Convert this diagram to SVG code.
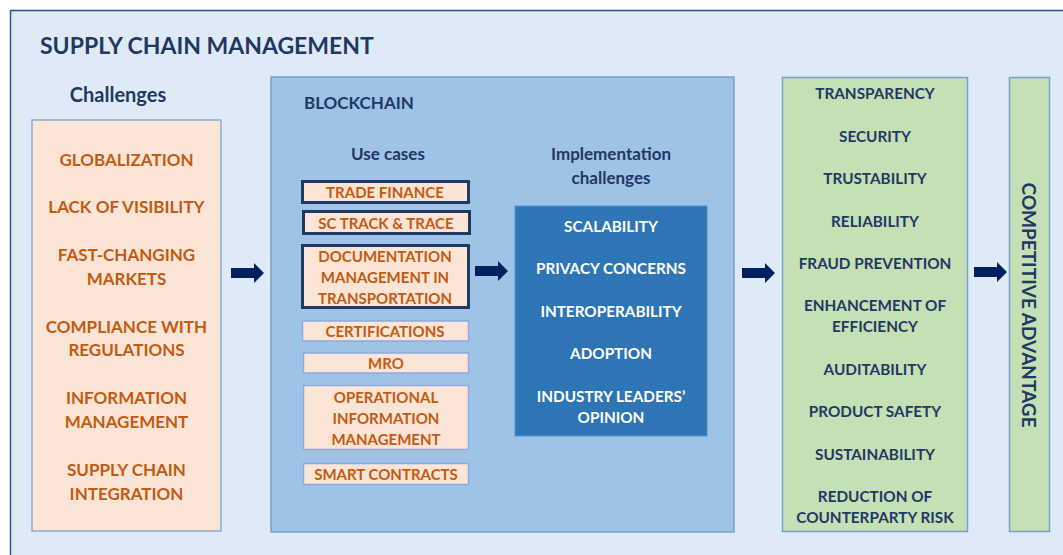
<svg xmlns="http://www.w3.org/2000/svg" width="1063" height="555" viewBox="0 0 1063 555">
<defs>
<style>
text{font-family:Lato,"Open Sans","Liberation Sans",sans-serif;font-weight:700;text-anchor:middle}
.dk{fill:#1F3864}
.or{fill:#C55A11}
.wh{fill:#FFFFFF}
.ch{font-size:17px}
.uc{font-size:15px}
.im{font-size:15.3px}
.gr{font-size:15.3px}
.thick{fill:#FBE5D6;stroke:#1F3864;stroke-width:3}
.thin{fill:#FBE5D6;stroke:#8FAADC;stroke-width:1.5}
.arr{fill:#002060}
</style>
<path id="arrow" d="M0,-5 L23,-5 L23,-10 L33,0 L23,10 L23,5 L0,5 Z"/>
</defs>
<rect x="0" y="0" width="1063" height="555" fill="#FFFFFF"/>
<rect id="frame" x="10.5" y="10.5" width="1070" height="560" fill="#DEEBF7" stroke="#2F4F8F" stroke-width="1.5"/>
<text class="dk" x="40" y="54" style="font-size:23px;text-anchor:start">SUPPLY CHAIN MANAGEMENT</text>

<g id="challenges">
<text class="dk" x="118" y="102" style="font-size:20px">Challenges</text>
<rect x="32" y="120" width="189" height="411" fill="#FBE5D6" stroke="#8FAADC" stroke-width="1.5"/>
<text class="or ch" x="126.5" y="166">GLOBALIZATION</text>
<text class="or ch" x="126.5" y="213">LACK OF VISIBILITY</text>
<text class="or ch" x="126.5" y="261">FAST-CHANGING</text>
<text class="or ch" x="126.5" y="285">MARKETS</text>
<text class="or ch" x="126.5" y="333">COMPLIANCE WITH</text>
<text class="or ch" x="126.5" y="356">REGULATIONS</text>
<text class="or ch" x="126.5" y="404">INFORMATION</text>
<text class="or ch" x="126.5" y="428">MANAGEMENT</text>
<text class="or ch" x="126.5" y="476">SUPPLY CHAIN</text>
<text class="or ch" x="126.5" y="500">INTEGRATION</text>
</g>

<g id="blockchain">
<rect x="271" y="77" width="463" height="455" fill="#9DC3E6" stroke="#7A9FCC" stroke-width="1.5"/>
<text class="dk" x="304" y="109" style="font-size:17px;text-anchor:start">BLOCKCHAIN</text>
<text class="dk" x="388" y="160" style="font-size:17px">Use cases</text>
<text class="dk" x="611" y="160" style="font-size:17px">Implementation</text>
<text class="dk" x="611" y="184" style="font-size:17px">challenges</text>
</g>

<g id="uc-trade"><rect class="thick" x="302.5" y="181.5" width="166" height="21"/><text class="or uc" x="385" y="198">TRADE FINANCE</text></g>
<g id="uc-track"><rect class="thick" x="303.5" y="211.5" width="166" height="22"/><text class="or uc" x="386" y="229">SC TRACK &amp; TRACE</text></g>
<g id="uc-doc"><rect class="thick" x="302.5" y="245.5" width="166" height="62"/>
<text class="or uc" x="385" y="262">DOCUMENTATION</text><text class="or uc" x="385" y="283">MANAGEMENT IN</text><text class="or uc" x="385" y="304">TRANSPORTATION</text></g>
<g id="uc-cert"><rect class="thin" x="302.5" y="321" width="166" height="20"/><text class="or uc" x="385" y="337">CERTIFICATIONS</text></g>
<g id="uc-mro"><rect class="thin" x="303.5" y="353" width="165" height="20"/><text class="or uc" x="386" y="369">MRO</text></g>
<g id="uc-ops"><rect class="thin" x="303.5" y="385.5" width="165" height="64"/>
<text class="or uc" x="386" y="403">OPERATIONAL</text><text class="or uc" x="386" y="424">INFORMATION</text><text class="or uc" x="386" y="445">MANAGEMENT</text></g>
<g id="uc-smart"><rect class="thin" x="303.5" y="463.5" width="165" height="21"/><text class="or uc" x="386" y="480">SMART CONTRACTS</text></g>

<g id="implementation">
<rect x="515" y="206" width="192" height="230" fill="#2E75B6" stroke="#5B8FCB" stroke-width="1"/>
<text class="wh im" x="611" y="232">SCALABILITY</text>
<text class="wh im" x="611" y="274">PRIVACY CONCERNS</text>
<text class="wh im" x="611" y="317">INTEROPERABILITY</text>
<text class="wh im" x="611" y="359">ADOPTION</text>
<text class="wh im" x="611" y="402">INDUSTRY LEADERS’</text>
<text class="wh im" x="611" y="423">OPINION</text>
</g>

<g id="benefits">
<rect x="782.5" y="77.5" width="185" height="454" fill="#C5E0B4" stroke="#7A9FCC" stroke-width="1.5"/>
<text class="dk gr" x="875" y="99">TRANSPARENCY</text>
<text class="dk gr" x="875" y="142">SECURITY</text>
<text class="dk gr" x="875" y="184">TRUSTABILITY</text>
<text class="dk gr" x="875" y="227">RELIABILITY</text>
<text class="dk gr" x="875" y="269">FRAUD PREVENTION</text>
<text class="dk gr" x="875" y="311">ENHANCEMENT OF</text>
<text class="dk gr" x="875" y="332">EFFICIENCY</text>
<text class="dk gr" x="875" y="375">AUDITABILITY</text>
<text class="dk gr" x="875" y="417">PRODUCT SAFETY</text>
<text class="dk gr" x="875" y="460">SUSTAINABILITY</text>
<text class="dk gr" x="875" y="502">REDUCTION OF</text>
<text class="dk gr" x="875" y="523">COUNTERPARTY RISK</text>
</g>

<g id="competitive">
<rect x="1009.5" y="77.5" width="40" height="454" fill="#C5E0B4" stroke="#7A9FCC" stroke-width="1.5"/>
<text class="dk" transform="translate(1022,305) rotate(90)" style="font-size:19px">COMPETITIVE ADVANTAGE</text>
</g>

<g id="connectors">
<use href="#arrow" class="arr" x="231" y="273"/>
<use href="#arrow" class="arr" x="475" y="271"/>
<use href="#arrow" class="arr" x="742" y="273"/>
<use href="#arrow" class="arr" x="974" y="272"/>
</g>
</svg>
